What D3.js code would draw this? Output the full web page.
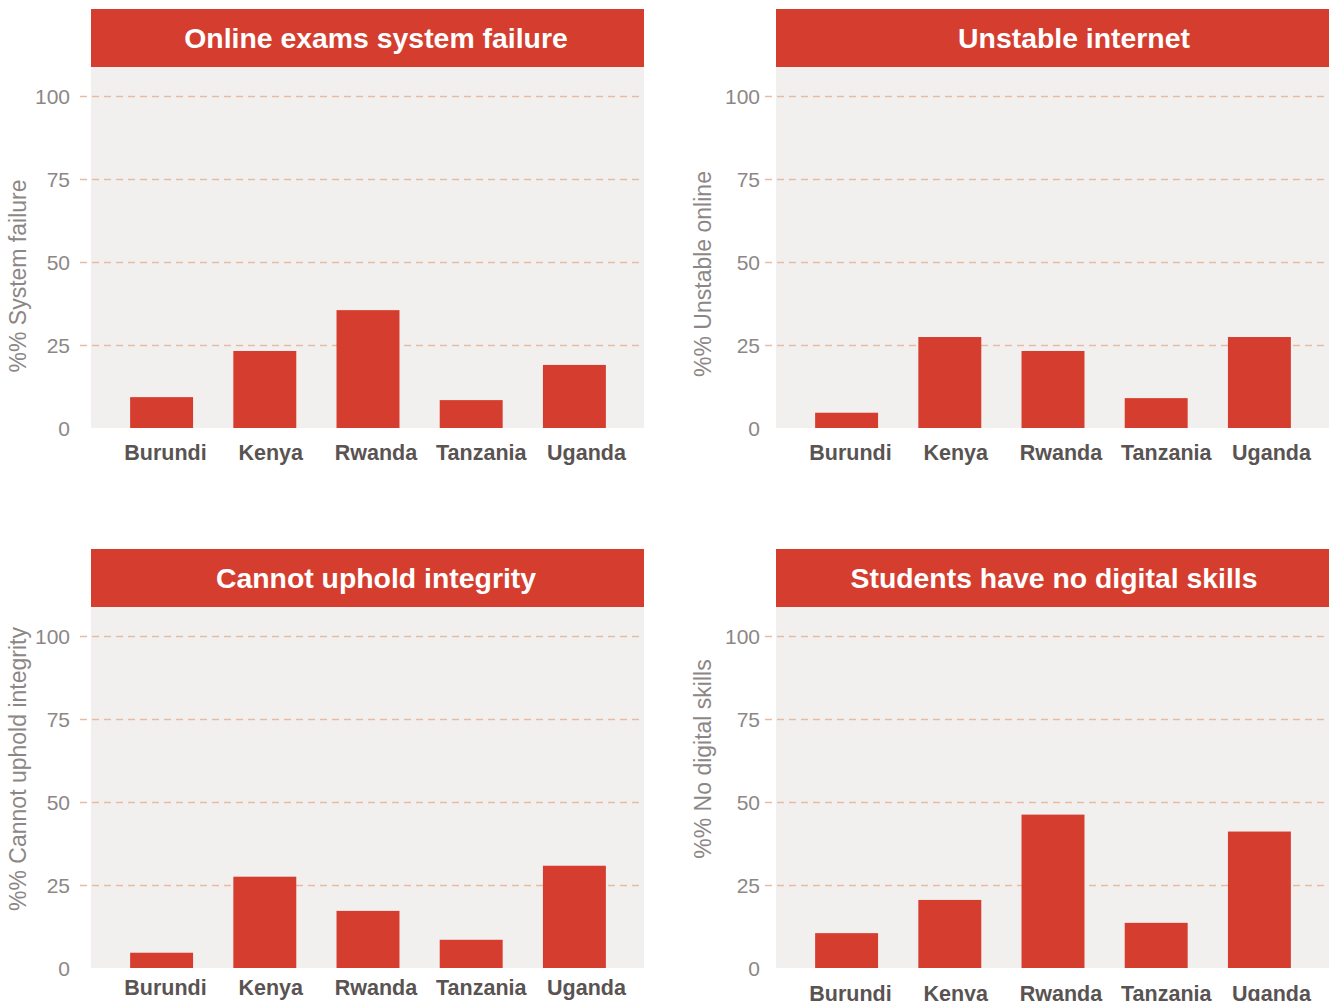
<!DOCTYPE html>
<html>
<head>
<meta charset="utf-8">
<script src="https://cdn.jsdelivr.net/npm/d3@7"></script>
<style>
  body { margin: 0; background: #fff; }
  svg { display: block; font-family: "Liberation Sans", Arial, sans-serif; }
</style>
</head>
<body>
<div id="chart"></div>
<script>
var svgWidth = 1329;
var svgHeight = 1001;

// data
var countries = ["Burundi", "Kenya", "Rwanda", "Tanzania", "Uganda"];
var titles = ["Online exams system failure", "Unstable internet", "Cannot uphold integrity", "Students have no digital skills"];
var yLabels = ["%% System failure", "%% Unstable online", "%% Cannot uphold integrity", "%% No digital skills"];
var systemFailure = [9.3, 23.2, 35.5, 8.4, 19.0];
var unstableOnline = [4.6, 27.4, 23.2, 9.0, 27.4];
var upholdIntegrity = [4.6, 27.5, 17.2, 8.5, 30.8];
var noDigitalSkills = [10.5, 20.5, 46.2, 13.6, 41.1];
var yTicks = [0, 25, 50, 75, 100];

var series = [systemFailure, unstableOnline, upholdIntegrity, noDigitalSkills];

// layout of each panel
var layout = [
    {x0: 91, y0: 9, titleX: 376, labelY: 276, pad: 10, labelOff: 32},
    {x0: 776, y0: 9, titleX: 1074, labelY: 274, pad: 5, labelOff: 32},
    {x0: 91, y0: 549, titleX: 376, labelY: 769, pad: 10, labelOff: 27},
    {x0: 776, y0: 549, titleX: 1054, labelY: 759, pad: 5, labelOff: 33}
];

var panelWidth = 553;
var stripHeight = 58;

var red = "#d53e2f";

var svg = d3.select("#chart")
    .append("svg")
    .attr("width", svgWidth)
    .attr("height", svgHeight);

series.forEach((values, i) => {
    var L = layout[i];
    var g = svg.append("g");

    var y = d3.scaleLinear()
        .domain([0, 100])
        .range([L.y0 + 419, L.y0 + 87]);

    var x = d3.scaleBand()
        .domain(countries)
        .range([L.x0 + 19, L.x0 + 535])
        .paddingInner(0.39)
        .paddingOuter(0.195);

    var xLabel = d3.scalePoint()
        .domain(countries)
        .range([L.x0 + 74, L.x0 + 495]);

    // plot background
    g.append("rect")
        .attr("x", L.x0)
        .attr("y", L.y0 + stripHeight)
        .attr("width", panelWidth)
        .attr("height", y(0) - L.y0 - stripHeight)
        .attr("fill", "#f2f0ef");

    // title strip
    g.append("rect")
        .attr("x", L.x0)
        .attr("y", L.y0)
        .attr("width", panelWidth)
        .attr("height", stripHeight)
        .attr("fill", red);

    g.append("text")
        .attr("x", L.titleX)
        .attr("y", L.y0 + stripHeight / 2)
        .attr("dy", "0.36em")
        .attr("text-anchor", "middle")
        .attr("fill", "#fff")
        .style("font-size", "28.4px")
        .style("font-weight", "bold")
        .text(titles[i]);

    // y axis with gridlines
    var leftAxis = d3.axisLeft(y)
        .tickValues(yTicks)
        .tickSize(-(L.x0 + panelWidth - (L.x0 - 11)))
        .tickPadding(L.pad);

    var yAxis = g.append("g")
        .attr("transform", `translate(${L.x0 - 11}, 0)`)
        .call(leftAxis);

    yAxis.select(".domain").remove();
    yAxis.selectAll(".tick line")
        .attr("stroke", "#e7baa5")
        .attr("stroke-width", 1.5)
        .attr("stroke-dasharray", "7,5")
        .attr("opacity", d => d === 0 ? 0 : 1);
    yAxis.selectAll(".tick text")
        .attr("fill", "#8c8786")
        .style("font-size", "21px")
        .attr("dy", "0.34em");

    // bars
    g.append("g")
        .selectAll("rect")
        .data(values)
        .enter()
        .append("rect")
            .attr("x", (d, j) => x(countries[j]))
            .attr("y", d => y(d))
            .attr("width", x.bandwidth())
            .attr("height", d => y(0) - y(d))
            .attr("fill", red);

    // x axis labels
    var bottomAxis = d3.axisBottom(xLabel)
        .tickSize(0)
        .tickPadding(0);

    var xAxis = g.append("g")
        .attr("transform", `translate(0, ${y(0) + L.labelOff})`)
        .call(bottomAxis);

    xAxis.select(".domain").remove();
    xAxis.selectAll(".tick text")
        .attr("dy", 0)
        .attr("y", 0)
        .attr("fill", "#595352")
        .style("font-size", "21.5px")
        .style("font-weight", "bold");

    // y axis title
    g.append("text")
        .attr("transform", `translate(${L.x0 - 65}, ${L.labelY}) rotate(-90)`)
        .attr("text-anchor", "middle")
        .attr("fill", "#8c8786")
        .style("font-size", "23px")
        .text(yLabels[i]);
});
</script>
</body>
</html>
